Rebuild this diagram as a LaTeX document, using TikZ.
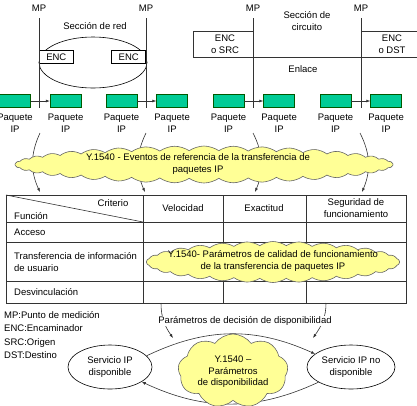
\documentclass[tikz,border=0pt]{standalone}
\usepackage{fontspec}
\setmainfont{Liberation Sans}
\usetikzlibrary{arrows.meta,positioning,shapes.geometric,shapes.symbols}
\definecolor{pktgreen}{RGB}{0,204,150}
\definecolor{cloudyellow}{RGB}{255,255,150}

\begin{document}
\begin{tikzpicture}[
x=1pt, y=1pt,
node distance=5pt and 19pt,
lbl/.style={align=center, inner sep=1pt, font=\fontsize{9.5}{11.5}\selectfont},
pkt/.style={draw=green!35!black, fill=pktgreen, line width=0.6pt, minimum width=31pt, minimum height=13pt, inner sep=0},
encbox/.style={lbl, draw, fill=white, line width=0.6pt, minimum width=34pt, minimum height=13pt, inner sep=0},
puffy/.style={cloud, draw=gray!80!black, fill=cloudyellow, line width=0.6pt, cloud puffs=#1, cloud ignores aspect, inner sep=0},
oval/.style={lbl, ellipse, draw, line width=0.6pt, inner sep=0},
wire/.style={line width=0.6pt, black!80},
arrow/.style={wire, -{Latex[length=4pt,width=3pt]}}
]
\useasboundingbox (0,0) rectangle (417,-405);

% measuring points
\node[lbl] (mp1) at (39,-8) {MP};
\node[lbl] (mp2) at (146,-8) {MP};
\node[lbl] (mp3) at (253,-8) {MP};
\node[lbl] (mp4) at (361,-8) {MP};

% network section
\node[lbl] (redlbl) at (95,-26) {Sección de red};
\node[oval, minimum width=108pt, minimum height=51pt] (red) at (93,-62.5) {};
\node[encbox, anchor=north west] (enc1) at (39,-50) {ENC};
\node[encbox, anchor=north east] (enc2) at (146,-50) {ENC};

% circuit section
\node[lbl] (circlbl) at (307,-21) {Sección de\\circuito};
\draw[wire] (253,-31) -| (193,-57) -- (417,-57);
\draw[wire] (361,-31) -- (417,-31);
\node[lbl] (src) at (225,-44) {ENC\\o SRC};
\node[lbl] (dst) at (392,-44) {ENC\\o DST};
\node[lbl] (enlace) at (303,-69) {Enlace};

% packets
\node[pkt] (p1a) at (15,-101) {};
\node[pkt, right=of p1a] (p1b) {};
\node[pkt] (p2a) at (121.5,-101) {};
\node[pkt, right=of p2a] (p2b) {};
\node[pkt] (p3a) at (228.5,-101) {};
\node[pkt, right=of p3a] (p3b) {};
\node[pkt] (p4a) at (335.5,-101) {};
\node[pkt, right=of p4a] (p4b) {};
\node[lbl, below=of p1a] (ip1a) {Paquete\\IP};
\node[lbl, below=of p1b] (ip1b) {Paquete\\IP};
\node[lbl, below=of p2a] (ip2a) {Paquete\\IP};
\node[lbl, below=of p2b] (ip2b) {Paquete\\IP};
\node[lbl, below=of p3a] (ip3a) {Paquete\\IP};
\node[lbl, below=of p3b] (ip3b) {Paquete\\IP};
\node[lbl, below=of p4a] (ip4a) {Paquete\\IP};
\node[lbl, below=of p4b] (ip4b) {Paquete\\IP};

\draw[wire] (mp1.south) ++(0,-6) -- (mp1 |- p1a.south);
\draw[wire] (mp2.south) ++(0,-6) -- (mp2 |- p2a.south);
\draw[wire] (mp3.south) ++(0,-6) -- (mp3 |- p3a.south);
\draw[wire] (mp4.south) ++(0,-6) -- (mp4 |- p4a.south);
\draw[arrow] (p1a) -- (p1b);
\draw[arrow] (p2a) -- (p2b);
\draw[arrow] (p3a) -- (p3b);
\draw[arrow] (p4a) -- (p4b);

% reference events
\coordinate (e1) at (40,-133);
\coordinate (e2) at (146,-133);
\coordinate (e3) at (253,-133);
\coordinate (e4) at (360,-133);
\coordinate (t1) at (40,-192);
\coordinate (t2) at (145,-192);
\coordinate (t3) at (255,-192);
\coordinate (t4) at (362,-192);
\draw[arrow] (e1) to[bend right=25] (t1);
\draw[arrow] (e2) to[bend right=25] (t2);
\draw[arrow] (e3) to[bend left=25] (t3);
\draw[arrow] (e4) to[bend left=25] (t4);
\node[puffy=40, cloud puff arc=70, minimum width=378pt, minimum height=37pt] (evcloud) at (204,-164.5) {};
\node[lbl] (ev) at (198,-164) {Y.1540 - Eventos de referencia de la transferencia de\\paquetes IP};

% table
\node[draw, wire, anchor=north west, minimum width=400pt, minimum height=108pt, inner sep=0] (tbl) at (6,-195) {};
\draw[wire] (tbl.north west) -- (143,-222);
\draw[wire] (6,-222) -- (406,-222);
\draw[wire] (6,-242) -- (406,-242);
\draw[wire] (6,-281) -- (406,-281);
\draw[wire] (143,-195) -- (143,-303);
\draw[wire] (223,-195) -- (223,-303);
\draw[wire] (306,-195) -- (306,-303);
\node[lbl] (crit) at (113,-203) {Criterio};
\node[lbl, anchor=west] (func) at (13,-216) {Función};
\node[lbl] (vel) at (183,-208) {Velocidad};
\node[lbl] (exa) at (264,-208) {Exactitud};
\node[lbl] (seg) at (356,-208) {Seguridad de\\funcionamiento};
\node[lbl, anchor=west] (acc) at (13,-232) {Acceso};
\node[lbl, anchor=west, align=left] (transf) at (13,-262) {Transferencia de información\\de usuario};
\node[lbl, anchor=west] (desv) at (13,-292) {Desvinculación};
\node[puffy=30, cloud puff arc=70, minimum width=253pt, minimum height=41pt] (qoscloud) at (273,-262) {};
\node[lbl] (qos) at (273,-261) {Y.1540- Parámetros de calidad de funcionamiento\\de la transferencia de paquetes IP};

% availability
\coordinate (d1) at (161,-303);
\coordinate (d2) at (326,-303);
\coordinate (a1) at (173,-338);
\coordinate (a2) at (313,-338);
\draw[arrow] (d1) to[out=-90,in=125] (a1);
\draw[arrow] (d2) to[out=-90,in=55] (a2);
\node[lbl, fill=white] (decis) at (245,-321) {Parámetros de decisión de disponibilidad};
\node[oval, minimum width=84pt, minimum height=44pt] (avail) at (110,-367) {Servicio IP\\disponible};
\node[oval, minimum width=88pt, minimum height=44pt] (unavail) at (351,-367) {Servicio IP no\\disponible};
\draw[arrow] (avail.17) to[bend left=25] (unavail.160);
\draw[arrow] (unavail.205) to[bend left=25] (avail.335);
\node[puffy=9, cloud puff arc=110, minimum width=110pt, minimum height=74pt] (avcloud) at (233,-371) {};
\node[lbl] (av) at (233,-372) {Y.1540 --\\Parámetros\\de disponibilidad};

\node[lbl, anchor=north west, align=left, font=\fontsize{9.5}{13.5}\selectfont] (legend) at (3,-310) {MP:Punto de medición\\ENC:Encaminador\\SRC:Origen\\DST:Destino};
\end{tikzpicture}
\end{document}
